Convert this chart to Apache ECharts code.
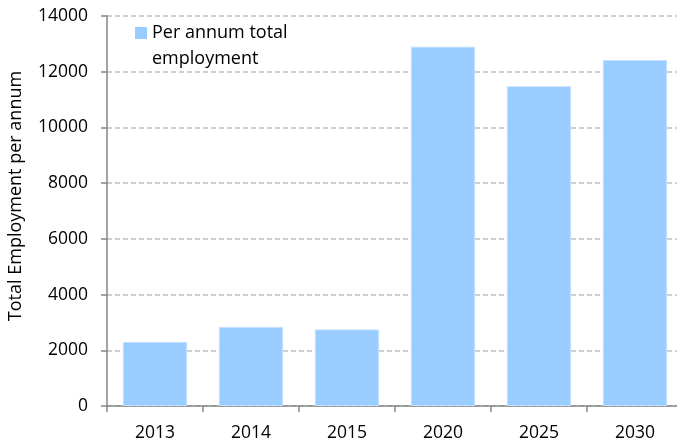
<!DOCTYPE html>
<html>
<head>
<meta charset="utf-8">
<script src="https://cdn.jsdelivr.net/npm/echarts@6/dist/echarts.min.js"></script>
<style>
  html, body { margin: 0; padding: 0; background: #fff; }
  #chart { width: 677px; height: 442px; }
</style>
</head>
<body>
<div id="chart"></div>
<script>
// Years shown along the horizontal axis
const years = ['2013', '2014', '2015', '2020', '2025', '2030'];
// Total employment per annum for each year
const employment = [2300, 2840, 2750, 12900, 11480, 12420];
// Vertical axis range
const yMin = 0;
const yMax = 14000;
const yStep = 2000;

const seriesName = 'Per annum total\nemployment';
const font = '"Open Sans", Lato, sans-serif';

// Legend swatch sits beside the first line of the two-line label:
// a 12px square near the top of a 52px-tall item box (corner specks set the box).
const swatch = 'path://M0,0L0.01,0L0,0.01Z M0,7H12V19H0Z M0,52L0.01,52L0,51.99Z';

const chart = echarts.init(document.getElementById('chart'));
chart.setOption({
  animation: false,
  textStyle: { fontFamily: font },
  grid: { left: 107, right: -6, top: 16, bottom: 36, outerBoundsMode: 'none', containLabel: false },
  legend: {
    left: 130,
    top: 15,
    itemWidth: 12,
    itemHeight: 52,
    itemGap: 0,
    icon: swatch,
    itemStyle: { borderWidth: 0 },
    textStyle: { fontSize: 18, color: '#000', lineHeight: 26, fontFamily: font },
    data: [seriesName]
  },
  xAxis: {
    type: 'category',
    data: years,
    axisLine: { lineStyle: { color: '#868686', width: 1.5 } },
    axisTick: { show: true, length: 6, lineStyle: { color: '#868686', width: 1.5 } },
    axisLabel: { color: '#000', fontSize: 17.5, margin: 18, fontFamily: font }
  },
  yAxis: {
    type: 'value',
    min: yMin,
    max: yMax,
    interval: yStep,
    name: 'Total Employment per annum',
    nameLocation: 'middle',
    nameGap: 82,
    nameTextStyle: { color: '#000', fontSize: 18, fontFamily: font, padding: [0, 0, 0, 30] },
    axisLine: { show: true, lineStyle: { color: '#868686', width: 1.5 } },
    axisTick: { show: true, length: 6, lineStyle: { color: '#868686', width: 1.5 } },
    axisLabel: { color: '#000', fontSize: 17.5, margin: 19, fontFamily: font, formatter: v => String(v) },
    splitLine: { show: true, lineStyle: { color: '#c0c0c0', type: [5, 3], width: 1.5 } }
  },
  series: [{
    name: seriesName,
    type: 'bar',
    data: employment,
    barCategoryGap: '33%',
    itemStyle: { color: '#99ccff', borderColor: '#c4e0ff', borderWidth: 1 }
  }]
});
</script>
</body>
</html>
